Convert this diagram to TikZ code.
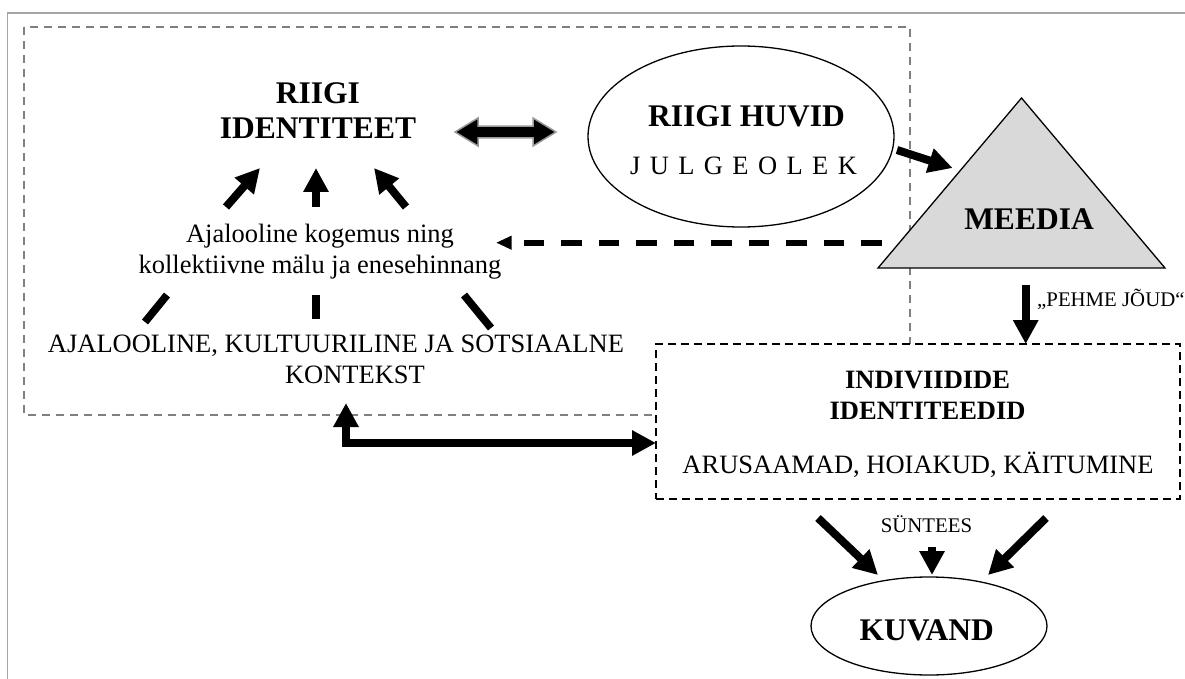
\documentclass[tikz,border=0pt]{standalone}
\usepackage{fontspec}
\setmainfont{Liberation Serif}
\usetikzlibrary{arrows.meta}
\usetikzlibrary{shapes.geometric}
\usetikzlibrary{calc}

\begin{document}
\begin{tikzpicture}[x=1pt, y=-1pt,
    lbl/.style={inner sep=0pt, align=center, font=\fontsize{26.5}{31}\selectfont},
    head/.style={inner sep=0pt, align=center, font=\fontsize{31.5}{35}\selectfont\bfseries},
    subhead/.style={inner sep=0pt, align=center, font=\fontsize{26.5}{31}\selectfont\bfseries},
    note/.style={inner sep=0pt, font=\fontsize{20.8}{24}\selectfont},
    oval/.style={draw, ellipse, line width=1.3pt, inner sep=0pt},
    fat/.style={line width=8pt, -{Triangle[length=24pt, width=24pt]}},
    bar/.style={line width=7.7pt}]

  \useasboundingbox (0,0) rectangle (1185,679);
  % page frame and the dashed area of the state
  \draw[gray!70, line width=1.5] (1185,13) -- (7.7,13) -- (7.7,679);
  \draw[gray, line width=1.2, dash pattern=on 8pt off 6pt] (24,27) rectangle (910,415);

  % left part (base = last line)
  \node[head, anchor=base] (ident) at (318,139) {RIIGI\\IDENTITEET};
  \node[lbl, anchor=base] (malu) at (320,273) {Ajalooline kogemus ning\\kollektiivne mälu ja enesehinnang};
  \node[lbl, anchor=base] (kontekst) at (336,383) {AJALOOLINE, KULTUURILINE JA SOTSIAALNE\\\hspace*{38pt}KONTEKST};

  % state interests
  \node[oval, minimum width=306, minimum height=181] (huvid) at (741,136.5) {};
  \node[head, anchor=base] (huvid1) at (746.5,126.7) {RIIGI HUVID};
  \node[lbl, anchor=base] (huvid2) at (743.5,175) {J\kern9.4pt U\kern9.4pt L\kern9.4pt G\kern9.4pt E\kern9.4pt O\kern9.4pt L\kern9.4pt E\kern9.4pt K};

  % media
  \coordinate (tri1) at (1021.5,98);
  \coordinate (tri2) at (878,268);
  \coordinate (tri3) at (1165,268);
  \filldraw[fill=gray!30, line width=1.3] (tri1) -- (tri2) -- (tri3) -- cycle;
  \node[head, anchor=base] (meedia) at (1029,229) {MEEDIA};
  \node[note, anchor=base west] (pehme) at (1037,306.7) {„PEHME JÕUD“};

  % individuals
  \node[draw, fill=white, line width=1.5, dash pattern=on 8pt off 5pt, minimum width=524, minimum height=155, inner sep=0pt] (indiv) at (918,421.5) {};
  \node[subhead, anchor=base] (indiv1) at (927.6,419) {INDIVIIDIDE\\IDENTITEEDID};
  \node[lbl, anchor=base] (indiv2) at (918,473) {ARUSAAMAD, HOIAKUD, KÄITUMINE};

  % image
  \node[note, anchor=base] (syntees) at (926.5,532) {SÜNTEES};
  \node[oval, minimum width=236, minimum height=98] (kuvand) at (929,626) {};
  \node[head, anchor=base] (kuvand1) at (926.7,640) {KUVAND};

  % arrow ends
  \coordinate (d1) at (455,132);
  \coordinate (d2) at (556,132);
  \coordinate (u1a) at (226,207);
  \coordinate (u1b) at (260,168);
  \coordinate (u2a) at (316,207);
  \coordinate (u2b) at (316,168);
  \coordinate (u3a) at (406,207);
  \coordinate (u3b) at (374,168);
  \coordinate (b1a) at (145,322);
  \coordinate (b1b) at (167,295);
  \coordinate (b2a) at (316,319);
  \coordinate (b2b) at (316,295);
  \coordinate (b3a) at (491,328);
  \coordinate (b3b) at (464,295);
  \coordinate (ds1) at (881.7,242.7);
  \coordinate (ds2) at (496,242.7);
  \coordinate (hm1) at (897,150);
  \coordinate (hm2) at (952.6,168);
  \coordinate (pj1) at (1025.7,285);
  \coordinate (pj2) at (1025.7,344);
  \coordinate (bt1) at (346,403);
  \coordinate (bt2) at (656,443);
  \coordinate (k1a) at (818,518);
  \coordinate (k1b) at (878,575);
  \coordinate (k2a) at (932,547);
  \coordinate (k2b) at (932,575);
  \coordinate (k3a) at (1046,518);
  \coordinate (k3b) at (988,575);

  % arrows
  \filldraw[fill=black, draw=gray!80, line width=1.5] (d1) -- ++(23,-14) -- ++(0,8.15) -- ($(d2)+(-23,-5.85)$) -- ++(0,-8.15) -- (d2) -- ++(-23,14) -- ++(0,-8.15) -- ($(d1)+(23,5.85)$) -- ++(0,8.15) -- cycle;
  \draw[fat] (u1a) -- (u1b);
  \draw[fat] (u2a) -- (u2b);
  \draw[fat] (u3a) -- (u3b);
  \draw[bar] (b1a) -- (b1b);
  \draw[bar] (b2a) -- (b2b);
  \draw[bar] (b3a) -- (b3b);
  \draw[line width=5.7, dash pattern=on 20.7pt off 16.8pt, -{Triangle[length=15.7pt, width=13pt]}] (ds1) -- (ds2);
  \draw[fat] (hm1) -- (hm2);
  \draw[fat] (pj1) -- (pj2);
  \draw[fat, {Triangle[length=24pt, width=24pt]}-{Triangle[length=24pt, width=24pt]}] (bt1) |- (bt2);
  \draw[fat] (k1a) -- (k1b);
  \draw[fat] (k2a) -- (k2b);
  \draw[fat] (k3a) -- (k3b);
\end{tikzpicture}
\end{document}
